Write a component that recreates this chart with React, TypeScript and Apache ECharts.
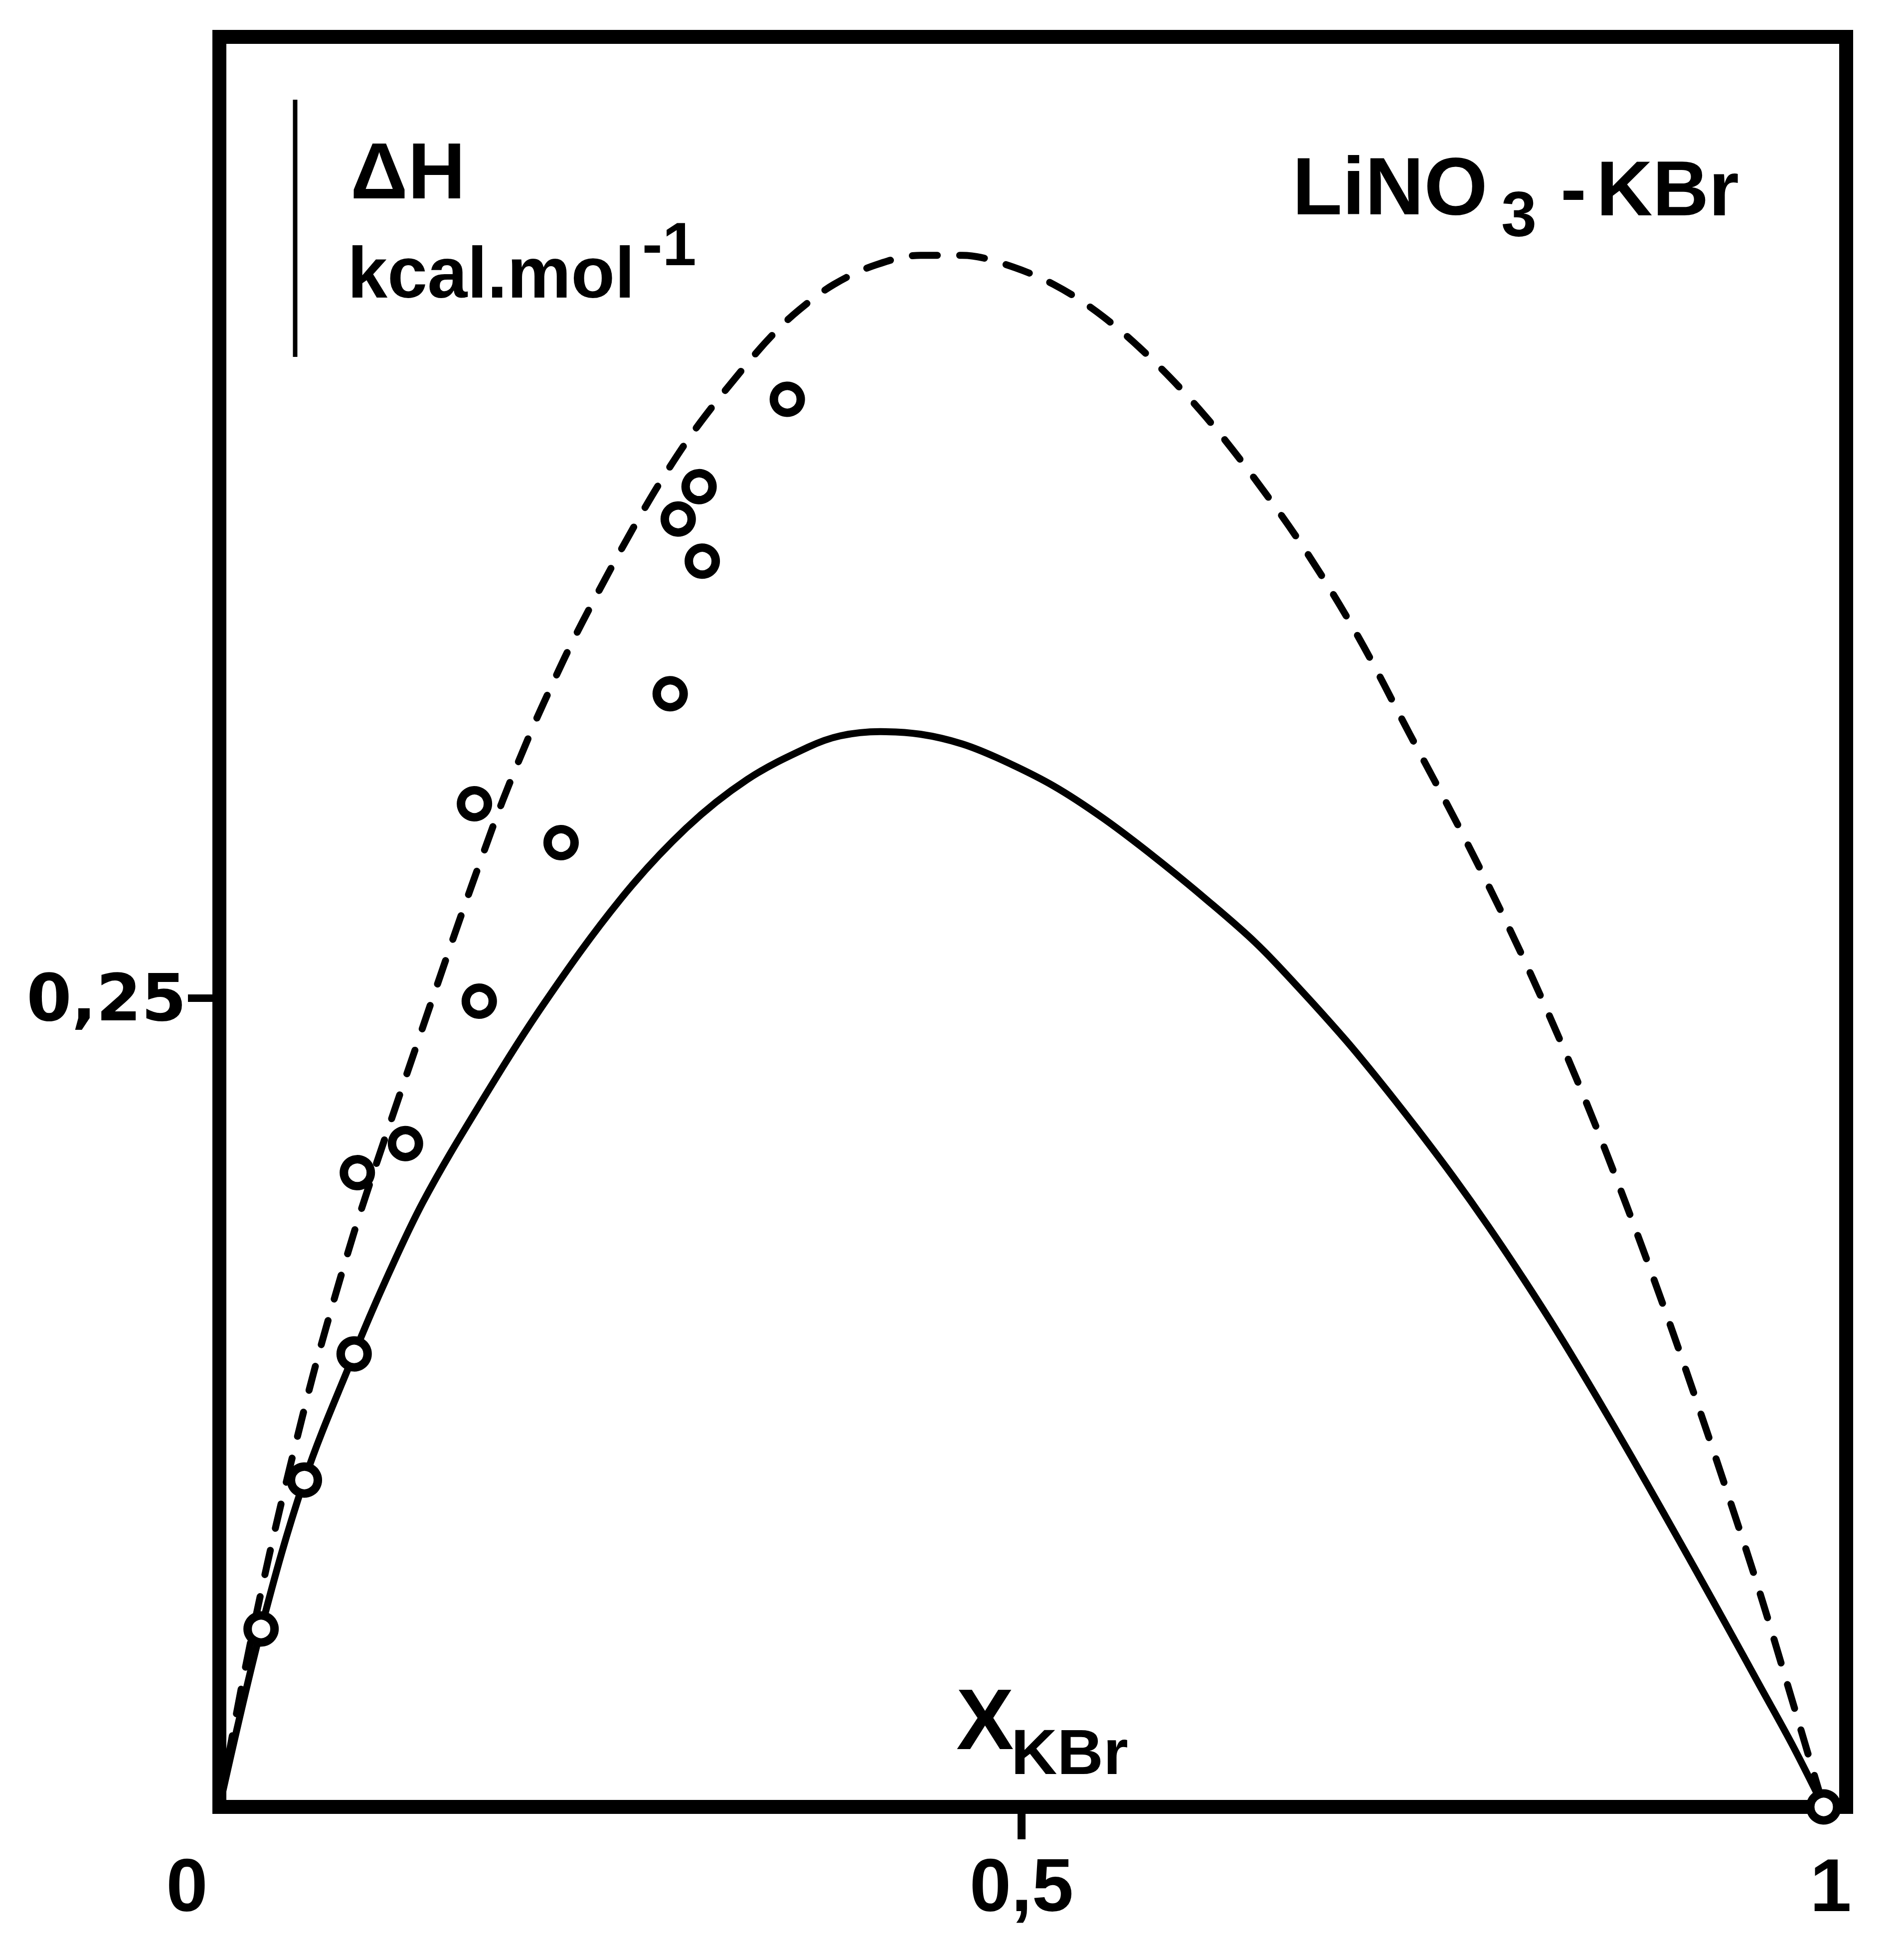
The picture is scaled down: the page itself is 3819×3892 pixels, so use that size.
import React, { useEffect, useRef } from "react";
import * as echarts from "echarts";

// x-axis (X_KBr) labelled values and their printed labels
const xLabelValues = [0, 0.5, 1];
const xLabelTexts = ["0", "0,5", "1"];
const xTickValues = [0.5];
// y-axis (ΔH, kcal/mol) labelled values
const yLabelValues = [0.25];
const yLabelTexts = ["0,25"];
const yTickValues = [0.25];

// solid curve
const solidX = [0, 0.026, 0.053, 0.084, 0.103, 0.127, 0.161, 0.202, 0.25, 0.291, 0.329, 0.367, 0.387, 0.412, 0.437, 0.463, 0.488, 0.52, 0.551, 0.583, 0.615, 0.646, 0.673, 0.702, 0.724, 0.747, 0.769, 0.791, 0.813, 0.835, 0.858, 0.88, 0.9, 0.92, 0.94, 0.96, 0.98, 1.0];
const solidY = [0, 0.055, 0.101, 0.14, 0.162, 0.187, 0.216, 0.248, 0.2805, 0.3025, 0.3175, 0.3275, 0.331, 0.3323, 0.3315, 0.3285, 0.3235, 0.3155, 0.3055, 0.2935, 0.2805, 0.267, 0.253, 0.237, 0.2238, 0.2093, 0.1948, 0.1794, 0.1631, 0.146, 0.1271, 0.1084, 0.091, 0.0734, 0.0556, 0.0376, 0.0196, 0];

// dashed curve
const dashedX = [0, 0.015, 0.033, 0.055, 0.067, 0.083, 0.094, 0.111, 0.122, 0.133, 0.15, 0.164, 0.177, 0.194, 0.202, 0.22, 0.24, 0.26, 0.28, 0.3, 0.329, 0.345, 0.361, 0.383, 0.409, 0.437, 0.463, 0.488, 0.52, 0.551, 0.583, 0.615, 0.646, 0.678, 0.71, 0.742, 0.774, 0.805, 0.829, 0.853, 0.877, 0.9, 0.92, 0.94, 0.96, 0.98, 1.0];
const dashedY = [0, 0.04, 0.082, 0.127, 0.149, 0.176, 0.193, 0.218, 0.234, 0.25, 0.2745, 0.294, 0.3115, 0.332, 0.341, 0.36, 0.379, 0.397, 0.4135, 0.428, 0.446, 0.455, 0.4625, 0.4705, 0.4765, 0.4795, 0.4795, 0.477, 0.4705, 0.4605, 0.4465, 0.4295, 0.41, 0.3875, 0.3615, 0.3315, 0.3015, 0.2705, 0.2445, 0.2165, 0.186, 0.155, 0.1265, 0.097, 0.0665, 0.0335, 0];

// measured points (open circles)
const pointsX = [0.026, 0.053, 0.084, 0.086, 0.116, 0.162, 0.159, 0.213, 0.281, 0.286, 0.299, 0.301, 0.354, 1.0];
const pointsY = [0.055, 0.101, 0.14, 0.196, 0.205, 0.249, 0.31, 0.298, 0.344, 0.398, 0.408, 0.385, 0.435, 0.0];

const zip = (xs: number[], ys: number[]) => xs.map((x, i) => [x, ys[i]]);

const FONT = "'Liberation Sans', Arial, sans-serif";
const FONT_DV = "'DejaVu Sans', sans-serif";

function txt(text: string, x: number, y: number, size: number, align = "left") {
  return {
    type: "text",
    x,
    y,
    z: 10,
    style: {
      text,
      fill: "#000",
      fontSize: size,
      fontWeight: "bold",
      fontFamily: FONT,
      align,
      textAlign: align,
      verticalAlign: "middle",
      textVerticalAlign: "middle",
    },
  };
}

const xLabelRich = {
  fontSize: 150,
  fontWeight: "bold",
  fontFamily: FONT,
  color: "#000",
};

export default function App() {
  const ref = useRef<HTMLDivElement>(null);
  useEffect(() => {
    const chart = echarts.init(ref.current as HTMLDivElement, null, { renderer: "svg" });
    chart.setOption({
      animation: false,
      backgroundColor: "#ffffff",
      grid: {
        left: 440,
        top: 74,
        width: 3263,
        height: 3551,
        show: true,
        borderColor: "#000",
        borderWidth: 28,
        backgroundColor: "transparent",
      },
      xAxis: {
        type: "value",
        min: 0,
        max: 1.014,
        axisLine: { show: true, lineStyle: { color: "#000", width: 28 } },
        splitLine: { show: false },
        axisTick: {
          show: true,
          inside: false,
          length: 65,
          customValues: xTickValues,
          lineStyle: { color: "#000", width: 16 },
        },
        axisLabel: {
          customValues: xLabelValues,
          formatter: (v: number) => {
            const i = xLabelValues.indexOf(v);
            if (i < 0) return "";
            const key = i === 0 ? "a" : i === 2 ? "c" : "b";
            return `{${key}|${xLabelTexts[i]}}`;
          },
          margin: 82,
          fontSize: 150,
          fontWeight: "bold",
          fontFamily: FONT,
          color: "#000",
          rich: {
            a: { ...xLabelRich, padding: [0, 130, 0, 0] },
            b: { ...xLabelRich },
            c: { ...xLabelRich, padding: [0, 0, 0, 28] },
          },
        },
      },
      yAxis: {
        type: "value",
        min: 0,
        max: 0.547,
        axisLine: { show: true, lineStyle: { color: "#000", width: 28 } },
        splitLine: { show: false },
        axisTick: {
          show: true,
          inside: false,
          length: 63,
          customValues: yTickValues,
          lineStyle: { color: "#000", width: 15 },
        },
        axisLabel: {
          customValues: yLabelValues,
          formatter: (v: number) => yLabelTexts[yLabelValues.indexOf(v)] ?? "",
          margin: 66,
          fontSize: 130,
          fontWeight: "bold",
          fontFamily: FONT_DV,
          color: "#000",
        },
      },
      series: [
        {
          type: "line",
          data: zip(solidX, solidY),
          showSymbol: false,
          smooth: 0.35,
          z: 2,
          lineStyle: { color: "#000", width: 14, cap: "round", join: "round" },
        },
        {
          type: "line",
          data: zip(dashedX, dashedY),
          showSymbol: false,
          smooth: 0.35,
          z: 2,
          lineStyle: { color: "#000", width: 14, type: [50, 45], cap: "round" },
        },
        {
          type: "scatter",
          data: zip(pointsX, pointsY),
          symbol: "circle",
          symbolSize: 54,
          z: 3,
          itemStyle: { color: "#ffffff", borderColor: "#000", borderWidth: 17, opacity: 1 },
        },
      ],
      graphic: [
        {
          type: "line",
          z: 10,
          shape: { x1: 592, y1: 200, x2: 592, y2: 716 },
          style: { stroke: "#000", lineWidth: 9 },
        },
        txt("ΔH", 703, 342, 160),
        txt("kcal.mol", 697, 547, 144),
        txt("-1", 1288, 490, 122),
        txt("LiNO", 2592, 373, 164),
        txt("3", 3011, 429, 128),
        txt("-", 3156, 378, 156, "center"),
        txt("KBr", 3202, 378, 156),
        txt("X", 1918, 3449, 173),
        txt("KBr", 2028, 3514, 128),
      ],
    });
    return () => chart.dispose();
  }, []);
  return (
    <div
      ref={ref}
      style={{ position: "absolute", left: 0, top: 0, width: 3819, height: 3892, background: "#fff" }}
    />
  );
}
